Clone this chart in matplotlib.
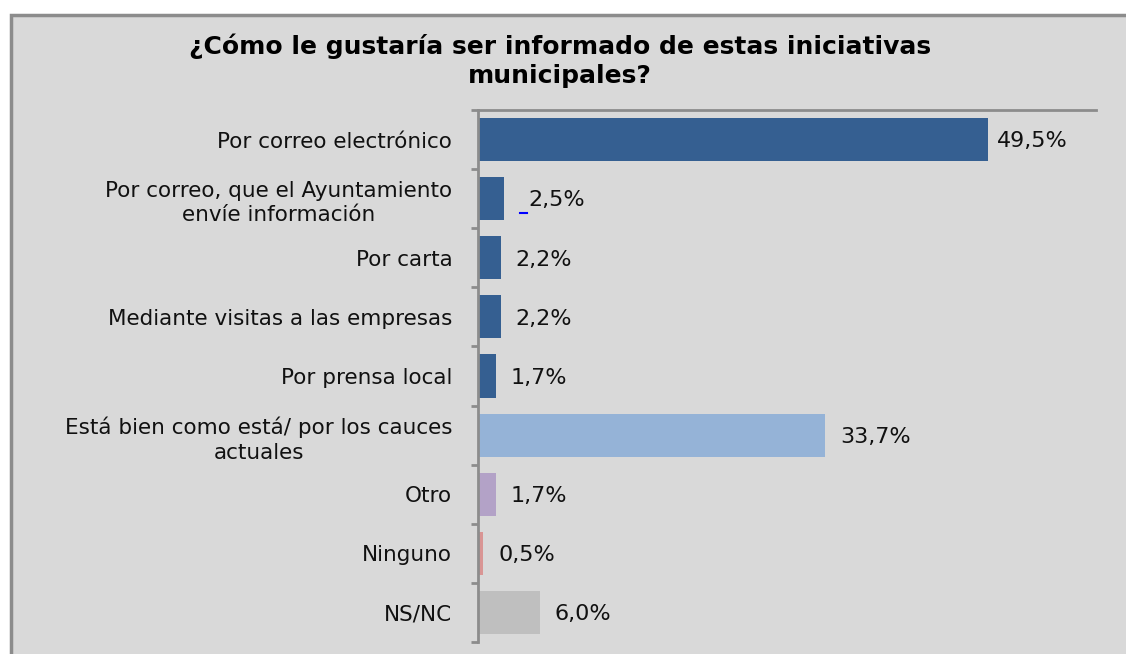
import matplotlib
matplotlib.use("Agg")
import matplotlib.pyplot as plt
from matplotlib.patches import Rectangle
import numpy as np

categories = [
    "Por correo electrónico",
    "Por correo, que el Ayuntamiento\nenvíe información",
    "Por carta",
    "Mediante visitas a las empresas",
    "Por prensa local",
    "Está bien como está/ por los cauces\nactuales",
    "Otro",
    "Ninguno",
    "NS/NC",
]
values = [49.5, 2.5, 2.2, 2.2, 1.7, 33.7, 1.7, 0.5, 6.0]
value_labels = ["49,5%", "2,5%", "2,2%", "2,2%", "1,7%", "33,7%", "1,7%", "0,5%", "6,0%"]
colors = ["#355F91", "#355F91", "#355F91", "#355F91", "#355F91",
          "#95B3D7", "#B3A2C7", "#D99594", "#BFBFBF"]
title = "¿Cómo le gustaría ser informado de estas iniciativas\nmunicipales?"

plt.rcParams['font.family'] = ['DejaVu Sans']

fig = plt.figure(figsize=(11.26, 6.54), dpi=100)
fig.patch.set_facecolor("white")
W, H = 1126, 654
# chart frame
fig.patches.append(Rectangle((10.5 / W, -0.05), 1.2, (H - 14.5) / H + 0.05,
                             transform=fig.transFigure, facecolor="#D9D9D9",
                             edgecolor="#8C8C8C", linewidth=2.5, zorder=0))

ax = fig.add_axes([478 / W, (H - 642) / H, (1096 - 478) / W, (642 - 110) / H])
ax.set_zorder(3)
ax.set_facecolor("none")
n = len(categories)
y = np.arange(n)
ax.barh(y, values, height=0.73, color=colors, zorder=2)
ax.set_xlim(0, 60)
ax.set_ylim(n - 0.5, -0.5)

for s in ["right", "bottom"]:
    ax.spines[s].set_visible(False)
for s in ["left", "top"]:
    ax.spines[s].set_color("#8C8C8C")
    ax.spines[s].set_linewidth(2.0)
ax.set_xticks([])
ax.set_yticks(y)
ax.set_yticklabels(categories, fontsize=15.5, color="#111111", linespacing=1.3)
ax.tick_params(axis="y", which="major", length=0, pad=18.5)
ax.set_yticks(np.arange(-0.5, n, 1), minor=True)
ax.tick_params(axis="y", which="minor", length=5, width=2, color="#8C8C8C")
for lbl in ax.get_yticklabels():
    lbl.set_horizontalalignment("right")
    lbl.set_multialignment("center")

for i, (v, t) in enumerate(zip(values, value_labels)):
    if v > 40:
        off = 0.9
    elif i == 1:
        off = 2.4
    else:
        off = 1.45
    ax.text(v + off, i + 0.03, t, va="center", ha="left", fontsize=16, color="#111111")
# small blue underscore before the 2,5% label
ax.plot([values[1] + 1.55, values[1] + 2.3], [1.25, 1.25],
        color="#0000FF", linewidth=1.5, zorder=3)

fig.text(560 / W, 1 - 61 / H, title, ha="center", va="center", fontsize=18,
         fontweight="bold", linespacing=1.25, zorder=4)

fig.savefig("out.png", dpi=100, facecolor="white")
